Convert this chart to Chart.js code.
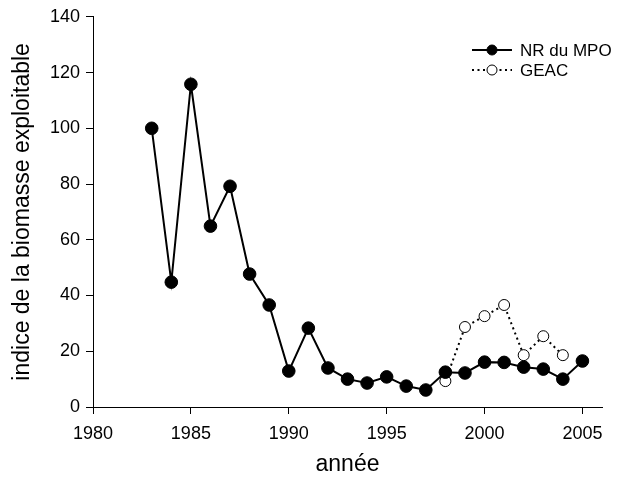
<!DOCTYPE html>
<html>
<head>
<meta charset="utf-8">
<script src="https://cdn.jsdelivr.net/npm/chart.js@4.4.1/dist/chart.umd.min.js"></script>
<style>
  html, body { margin: 0; padding: 0; background: #fff; }
  #wrap { width: 637px; height: 478px; }
</style>
</head>
<body>
<div id="wrap"><canvas id="biomasse" width="637" height="478"></canvas></div>
<script>
// Indice de la biomasse exploitable
const yearsMPO = [1983, 1984, 1985, 1986, 1987, 1988, 1989, 1990, 1991, 1992, 1993, 1994,
                  1995, 1996, 1997, 1998, 1999, 2000, 2001, 2002, 2003, 2004, 2005];
const valuesMPO = [100, 44.8, 115.8, 64.9, 79.2, 47.7, 36.6, 12.9, 28.3, 14, 10, 8.6,
                   10.8, 7.5, 6.1, 12.5, 12.2, 16.1, 16, 14.3, 13.6, 10, 16.5];
const yearsGEAC = [1998, 1999, 2000, 2001, 2002, 2003, 2004];
const valuesGEAC = [9.3, 28.7, 32.6, 36.6, 18.6, 25.4, 18.6];
const xTicks = [1980, 1985, 1990, 1995, 2000, 2005];
const yTicks = [0, 20, 40, 60, 80, 100, 120, 140];

const FONT = 'Liberation Sans, Arial, sans-serif';
const toPoints = (xs, ys) => xs.map((x, i) => ({ x: x, y: ys[i] }));

// legend drawn by hand: line + marker like the original
const legendPlugin = {
    id: 'sampleLegend',
    afterDraw(chart) {
        const ctx = chart.ctx;
        const x0 = 472, y0 = 50, rowH = 20;
        ctx.save();
        chart.data.datasets.forEach((ds, i) => {
            const y = y0 + i * rowH;
            ctx.strokeStyle = '#000';
            ctx.lineWidth = ds.borderWidth;
            ctx.setLineDash(ds.borderDash || []);
            ctx.beginPath();
            ctx.moveTo(x0, y);
            ctx.lineTo(x0 + 40, y);
            ctx.stroke();
            ctx.setLineDash([]);
            ctx.lineWidth = 1;
            ctx.fillStyle = ds.pointBackgroundColor;
            ctx.beginPath();
            ctx.arc(x0 + 20, y, 5, 0, Math.PI * 2);
            ctx.fill();
            ctx.stroke();
            ctx.fillStyle = '#000';
            ctx.font = '17px ' + FONT;
            ctx.textBaseline = 'middle';
            ctx.fillText(ds.label, x0 + 48, y + 1);
        });
        ctx.restore();
    }
};

const ctx = document.getElementById('biomasse').getContext('2d');
new Chart(ctx, {
    type: 'line',
    data: {
        datasets: [{
            label: 'NR du MPO',
            data: toPoints(yearsMPO, valuesMPO),
            borderColor: '#000',
            borderWidth: 2,
            pointRadius: 6.3,
            pointBackgroundColor: '#000',
            pointBorderColor: '#000',
            pointBorderWidth: 1,
            tension: 0
        }, {
            label: 'GEAC',
            data: toPoints(yearsGEAC, valuesGEAC),
            borderColor: '#000',
            borderWidth: 2,
            borderDash: [2, 3.5],
            pointRadius: 5.5,
            pointBackgroundColor: '#fff',
            pointBorderColor: '#000',
            pointBorderWidth: 1,
            tension: 0
        }]
    },
    options: {
        responsive: false,
        animation: false,
        layout: { padding: { top: 16, right: 35, left: 0, bottom: 0 } },
        plugins: {
            legend: { display: false },
            tooltip: { enabled: false }
        },
        scales: {
            x: {
                type: 'linear',
                min: 1980,
                max: 2006,
                afterBuildTicks: scale => { scale.ticks = xTicks.map(v => ({ value: v })); },
                afterFit: scale => { scale.height = 71; },
                grid: { display: true, drawOnChartArea: false, drawTicks: true, tickLength: 7, color: '#000' },
                border: { display: true, color: '#000', width: 1 },
                ticks: { color: '#000', font: { family: FONT, size: 18 }, padding: 9, maxRotation: 0,
                         callback: v => String(v) },
                title: { display: true, text: 'année', color: '#000', font: { family: FONT, size: 23 },
                         padding: { top: 0, bottom: 0 } }
            },
            y: {
                type: 'linear',
                min: 0,
                max: 140,
                afterBuildTicks: scale => { scale.ticks = yTicks.map(v => ({ value: v })); },
                afterFit: scale => { scale.width = 93; },
                grid: { display: true, drawOnChartArea: false, drawTicks: true, tickLength: 7, color: '#000' },
                border: { display: true, color: '#000', width: 1 },
                ticks: { color: '#000', font: { family: FONT, size: 18 }, padding: 6,
                         callback: v => String(v) },
                title: { display: true, text: 'indice de la biomasse exploitable', color: '#000',
                         font: { family: FONT, size: 23 }, padding: { top: 9, bottom: 0 } }
            }
        }
    },
    plugins: [legendPlugin]
});
</script>
</body>
</html>
